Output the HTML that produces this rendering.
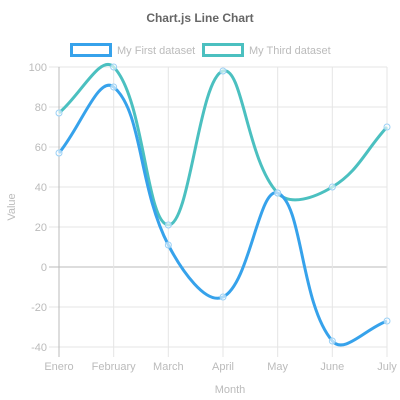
<!DOCTYPE html>
<html><head><meta charset="utf-8"><style>
html,body{margin:0;padding:0;background:#fff;}
svg{display:block;font-family:"Liberation Sans",sans-serif;}
</style></head><body>
<svg id="c" width="400" height="400">
<text x="200" y="22" text-anchor="middle" font-size="12" font-weight="bold" fill="#666">Chart.js Line Chart</text>
<g>
<rect x="71.5" y="44.5" width="39" height="11" fill="#fff" stroke="#36a2eb" stroke-width="3"/>
<text x="117" y="54" font-size="11" fill="#bbb">My First dataset</text></g>
<g>
<rect x="203.5" y="44.5" width="39" height="11" fill="#fff" stroke="#4bc0c0" stroke-width="3"/>
<text x="249" y="54" font-size="11" fill="#bbb">My Third dataset</text></g>
<g id="grid"></g><g id="series"></g>
<text x="230" y="393" text-anchor="middle" font-size="11" fill="#bbb">Month</text>
<text transform="translate(15,207) rotate(-90)" text-anchor="middle" font-size="11" fill="#bbb">Value</text>
</svg>
<script>
const categories=["Enero","February","March","April","May","June","July"];
const firstValues=[57,90,11,-15,37,-37,-27];
const thirdValues=[77,100,21,98,37,40,70];
const yTicks=[100,80,60,40,20,0,-20,-40];
const NS="http://www.w3.org/2000/svg";
const L=59,R=387,T=67,B=347,yMin=-40,yMax=100;
function xs(i){return L+i*(R-L)/(categories.length-1);}
function ys(v){return B-(v-yMin)/(yMax-yMin)*(B-T);}
function mk(t,a,p){const e=document.createElementNS(NS,t);for(const k in a)e.setAttribute(k,a[k]);p.appendChild(e);return e;}
const g=document.getElementById('grid');
yTicks.forEach(v=>{const y=ys(v);
const ln=mk('line',{x1:49,x2:R,y1:y,y2:y,stroke:v===0?'#bbb':'#e5e5e5','stroke-width':1},g);


const t=mk('text',{x:47,y:y+4,'text-anchor':'end','font-size':11,fill:'#bbb'},g);t.textContent=v;

});
categories.forEach((c,i)=>{const x=xs(i);
const ln=mk('line',{x1:x,x2:x,y1:T,y2:B+10,stroke:i===0?'#bbb':'#e5e5e5','stroke-width':1},g);


const t=mk('text',{x:x,y:370,'text-anchor':'middle','font-size':11,fill:'#bbb'},g);t.textContent=c;

});
function path(vals){const p=vals.map((v,i)=>[xs(i),ys(v)]);const t=0.4;const cps=[];
for(let i=0;i<p.length;i++){const a=p[Math.max(i-1,0)],b=p[i],c=p[Math.min(i+1,p.length-1)];
const d01=Math.hypot(b[0]-a[0],b[1]-a[1]),d12=Math.hypot(c[0]-b[0],c[1]-b[1]);
let fa=d01/(d01+d12)||0,fb=d12/(d01+d12)||0;fa*=t;fb*=t;
cps.push({p:[b[0]-fa*(c[0]-a[0]),b[1]-fa*(c[1]-a[1])],n:[b[0]+fb*(c[0]-a[0]),b[1]+fb*(c[1]-a[1])]});}
let d='M'+p[0][0]+','+p[0][1];
for(let i=1;i<p.length;i++){d+=' C'+cps[i-1].n.join(',')+' '+cps[i].p.join(',')+' '+p[i].join(',');}
return {d,p};}
const s=document.getElementById('series');
[[thirdValues,'#4bc0c0','third'],[firstValues,'#36a2eb','first']].forEach(([vals,col,nm])=>{
const r=path(vals);
const pe=mk('path',{d:r.d,fill:'none',stroke:col,'stroke-width':3},s);


r.p.forEach(q=>{const c=mk('circle',{cx:q[0],cy:q[1],r:3,fill:'rgba(255,255,255,0.6)',stroke:'#9ad0f5','stroke-width':1},s);

});});
</script>
</body></html>
